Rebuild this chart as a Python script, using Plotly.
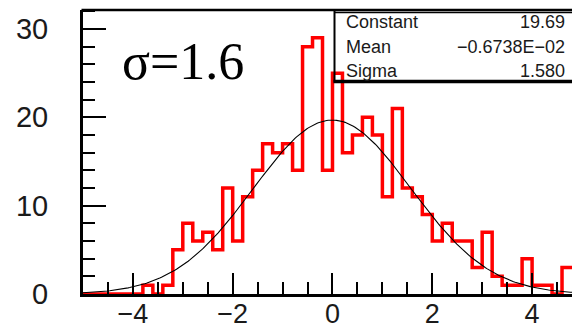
import numpy as np
import plotly.graph_objects as go

# ---------------- data ----------------
bin_edges = [round(-5.0 + 0.2 * i, 1) for i in range(51)]
counts = [0, 0, 0, 0, 0, 0, 1, 0, 1, 5,
          8, 6, 7, 5, 12, 6, 11, 14, 17, 16,
          17, 14, 28, 29, 14, 25, 16, 18, 20, 18,
          11, 21, 12, 11, 9, 6, 8, 6, 6, 3,
          7, 2, 1, 1, 4, 1, 1, 0, 3, 3]
fit_constant = 19.69
fit_mean = -0.6738e-02
fit_sigma = 1.580
stat_labels = ["Constant", "Mean", "Sigma"]
stat_values = ["19.69", "\u22120.6738E\u221202", "1.580"]
y_ticks = [0, 10, 20, 30]
x_ticks = [-4, -2, 0, 2, 4]
title_text = "\u03c3=1.6"

# ---------------- layout geometry (pixels) ----------------
W, H = 572, 331
L, R, T, B = 83, 0, 10, 37
PW, PH = W - L - R, H - T - B


def px(xp):
    return (xp - L) / PW


def py(yp):
    return (H - B - yp) / PH


fig = go.Figure()

# histogram as step outline
step_x = list(bin_edges)
step_y = list(counts) + [counts[-1]]
fig.add_trace(go.Scatter(x=step_x, y=step_y, mode="lines",
                         line=dict(color="#ff0000", width=3.5, shape="hv"),
                         hoverinfo="skip", showlegend=False))

# gaussian fit curve
fx = np.linspace(bin_edges[0], bin_edges[-1], 300)
fy = fit_constant * np.exp(-0.5 * ((fx - fit_mean) / fit_sigma) ** 2)
fig.add_trace(go.Scatter(x=fx, y=fy, mode="lines",
                         line=dict(color="black", width=1.1),
                         hoverinfo="skip", showlegend=False))

axis_font = dict(family="Liberation Sans", size=29, color="#1a1a1a")
xaxis_font = dict(family="Liberation Sans", size=27, color="#1a1a1a")

fig.update_layout(
    width=W, height=H,
    margin=dict(l=L, r=R, t=T, b=B, pad=0, autoexpand=False),
    paper_bgcolor="white", plot_bgcolor="white",
    showlegend=False,
    xaxis=dict(range=[-5.0, 4.8], tickvals=x_ticks, showgrid=False, zeroline=False,
               automargin=False,
               showline=True, linecolor="black", linewidth=3,
               ticks="inside", ticklen=21, tickwidth=2, tickcolor="black",
               minor=dict(ticks="inside", ticklen=12, tickwidth=2, dtick=0.5,
                          tick0=0, tickcolor="black", showgrid=False),
               tickfont=xaxis_font, ticklabelstandoff=-6),
    yaxis=dict(range=[0, 32.15], tickvals=y_ticks, showgrid=False, zeroline=False,
               automargin=False,
               showline=True, linecolor="black", linewidth=3,
               ticks="inside", ticklen=23, tickwidth=2, tickcolor="black",
               minor=dict(ticks="inside", ticklen=12, tickwidth=2, dtick=2,
                          tick0=0, tickcolor="black", showgrid=False),
               tickfont=axis_font, ticklabelstandoff=26),
)

shapes = []
# top frame line
shapes.append(dict(type="line", xref="paper", yref="paper", x0=px(81.5), x1=1.0,
                   y0=py(10), y1=py(10), line=dict(color="black", width=2.5)))
# stats box
shapes.append(dict(type="line", xref="paper", yref="paper", x0=px(334.5), x1=1.0,
                   y0=py(12.5), y1=py(12.5), line=dict(color="black", width=1.5)))
shapes.append(dict(type="line", xref="paper", yref="paper", x0=px(334.5), x1=px(334.5),
                   y0=py(10), y1=py(82.5), line=dict(color="black", width=2)))
shapes.append(dict(type="line", xref="paper", yref="paper", x0=px(333.5), x1=1.0,
                   y0=py(81.5), y1=py(81.5), line=dict(color="black", width=3.5)))
fig.update_layout(shapes=shapes)

annots = []
annots.append(dict(xref="paper", yref="paper", x=px(120), y=py(62), text=title_text,
                   showarrow=False, xanchor="left", yanchor="middle",
                   font=dict(family="Liberation Serif", size=52, color="black")))
row_y = [22, 47, 71]
stat_font = dict(family="Liberation Sans", size=18, color="#1a1a1a")
for lab, val, yy in zip(stat_labels, stat_values, row_y):
    annots.append(dict(xref="paper", yref="paper", x=px(344), y=py(yy), text=lab,
                       showarrow=False, xanchor="left", yanchor="middle", font=stat_font))
    annots.append(dict(xref="paper", yref="paper", x=px(567), y=py(yy), text=val,
                       showarrow=False, xanchor="right", yanchor="middle", font=stat_font))
fig.update_layout(annotations=annots)

fig.write_html("out.html")
